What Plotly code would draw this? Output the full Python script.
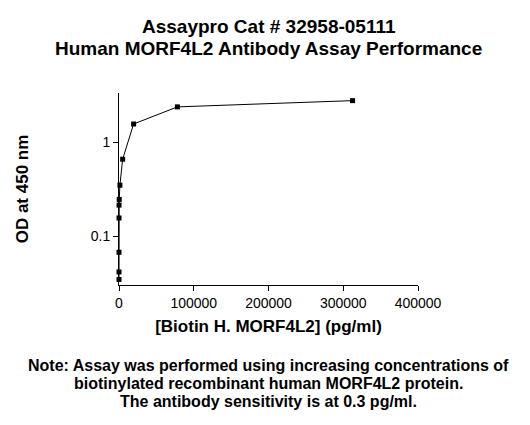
import plotly.graph_objects as go

# concentration (pg/ml), 4-fold dilution series
conc = [0.298, 1.19, 4.77, 19.1, 76.3, 305, 1221, 4883, 19531, 78125, 312500]
od = [0.035, 0.042, 0.068, 0.157, 0.215, 0.247, 0.350, 0.660, 1.56, 2.37, 2.76]

x_ticks = [0, 100000, 200000, 300000, 400000]
y_ticks = [0.1, 1]

title_lines = ["Assaypro Cat # 32958-05111", "Human MORF4L2 Antibody Assay Performance"]
note_lines = [
    "Note: Assay was performed using increasing concentrations of",
    "biotinylated recombinant human MORF4L2 protein.",
    "The antibody sensitivity is at 0.3 pg/ml.",
]

font_name = "Liberation Sans, Arial, sans-serif"

fig = go.Figure()
fig.add_trace(go.Scatter(
    x=conc, y=od, mode="lines+markers",
    line=dict(color="black", width=1),
    marker=dict(symbol="square", size=5, color="black"),
    cliponaxis=False, showlegend=False,
))

# page has an 8px body margin, so the plot area is placed 8px up/left
fig.update_layout(
    width=530, height=425,
    margin=dict(l=111, r=120, t=85, b=148),
    paper_bgcolor="white", plot_bgcolor="white",
    font=dict(family=font_name, color="black", size=14),
)

fig.update_xaxes(
    range=[0, 400000], tickvals=x_ticks, tickformat="d",
    showgrid=False, zeroline=False, automargin=False,
    showline=True, linecolor="black", linewidth=1,
    ticks="outside", ticklen=5, tickcolor="black",
    tickfont=dict(size=14),
    title=dict(text="<b>[Biotin H. MORF4L2] (pg/ml)</b>", font=dict(size=17), standoff=10),
)
fig.update_yaxes(
    type="log", range=[-1.515, 0.522], tickvals=y_ticks, ticktext=["0.1", "1"],
    showgrid=False, zeroline=False, automargin=False,
    showline=True, linecolor="black", linewidth=1,
    ticks="outside", ticklen=5, tickcolor="black",
    tickfont=dict(size=14),
    title=dict(text="<b>OD at 450 nm</b>", font=dict(size=17), standoff=57),
)

# plot area on the page: top at 93 px, bottom at 285 px
def paper_y(px):
    return (285 - px) / 192

for line, ypx in zip(title_lines, [26, 48]):
    fig.add_annotation(text="<b>" + line + "</b>", xref="paper", yref="paper",
                       x=0.5, y=paper_y(ypx), xanchor="center", yanchor="middle",
                       showarrow=False, font=dict(size=19))

for line, ypx in zip(note_lines, [365, 383, 401]):
    fig.add_annotation(text="<b>" + line + "</b>", xref="paper", yref="paper",
                       x=0.5, y=paper_y(ypx), xanchor="center", yanchor="middle",
                       showarrow=False, font=dict(size=16))

fig.write_html("out.html")
